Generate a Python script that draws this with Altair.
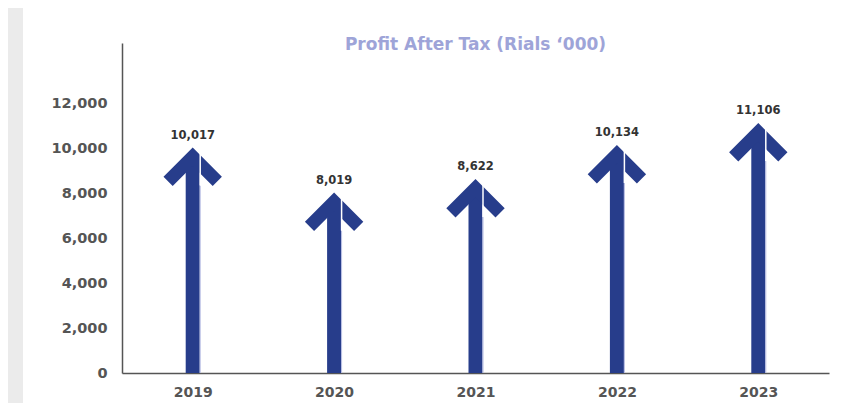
import altair as alt
import pandas as pd

years = ["2019", "2020", "2021", "2022", "2023"]
profit = [10017, 8019, 8622, 10134, 11106]
y_ticks = [0, 2000, 4000, 6000, 8000, 10000, 12000]
title_text = "Profit After Tax (Rials \u2018000)"

df = pd.DataFrame({"year": years, "profit": profit})

W, H = 707, 330
BLUE = "#273d8b"
AXIS_GREY = "#555555"
FONT = "DejaVu Sans"
CHEVRON = "M0,0L-0.73,0.73L-0.5,0.96L0,0.46L0.5,0.96L0.73,0.73Z"

x = alt.X(
    "year:N",
    scale=alt.Scale(type="point", padding=0.5),
    axis=alt.Axis(
        title=None, labelAngle=0, ticks=False, grid=False,
        domainColor=AXIS_GREY, domainWidth=1.5, labelPadding=12,
        labelFont=FONT, labelFontSize=14, labelFontWeight="bold",
        labelColor=AXIS_GREY,
    ),
)
y = alt.Y(
    "profit:Q",
    scale=alt.Scale(domain=[0, 14667], nice=False, zero=True),
    axis=alt.Axis(
        title=None, values=y_ticks, labelExpr="format(datum.value, ',')",
        ticks=False, grid=False,
        domainColor=AXIS_GREY, domainWidth=1.5, labelPadding=15,
        labelFont=FONT, labelFontSize=14.5, labelFontWeight="bold",
        labelColor=AXIS_GREY,
    ),
)

base = alt.Chart(df)

strip = alt.Chart(pd.DataFrame({"k": [0]})).mark_rect(color="#ebebeb").encode(
    x=alt.value(-114), x2=alt.value(-99), y=alt.value(-35), y2=alt.value(H + 40)
)

title = alt.Chart(pd.DataFrame({"t": [title_text]})).mark_text(
    font=FONT, fontSize=17, fontWeight="bold", color="#9ea4d8",
    baseline="middle", align="center",
).encode(x=alt.value(W / 2), y=alt.value(2), text="t:N")

shaft = base.mark_rule(strokeWidth=14, color=BLUE, yOffset=10).encode(
    x=x, y=y, y2=alt.datum(0)
)

edge = base.mark_rule(strokeWidth=1, color="#b4bae2", xOffset=7.5, yOffset=38).encode(
    x=x, y=y, y2=alt.datum(0)
)

head = base.mark_point(
    shape=CHEVRON, size=6400, filled=True, opacity=1, color=BLUE, strokeWidth=0
).encode(x=x, y=y)

gap = base.mark_rule(
    strokeWidth=1.5, color="white", xOffset=7.5, yOffset=5, y2Offset=38
).encode(x=x, y=y, y2="profit:Q")

values = base.mark_text(
    font=FONT, fontSize=11.5, fontWeight="bold", color="#333333",
    dy=-12, baseline="middle", align="center",
).encode(x=x, y=y, text=alt.Text("profit:Q", format=","))

chart = alt.layer(strip, title, shaft, edge, head, gap, values).properties(
    width=W, height=H,
    autosize=alt.AutoSizeParams(type="none"),
    padding={"left": 114, "top": 35, "right": 6, "bottom": 30},
    background="white",
).configure_view(stroke=None)

chart.save("out.html", embed_options={"renderer": "svg", "actions": False})
